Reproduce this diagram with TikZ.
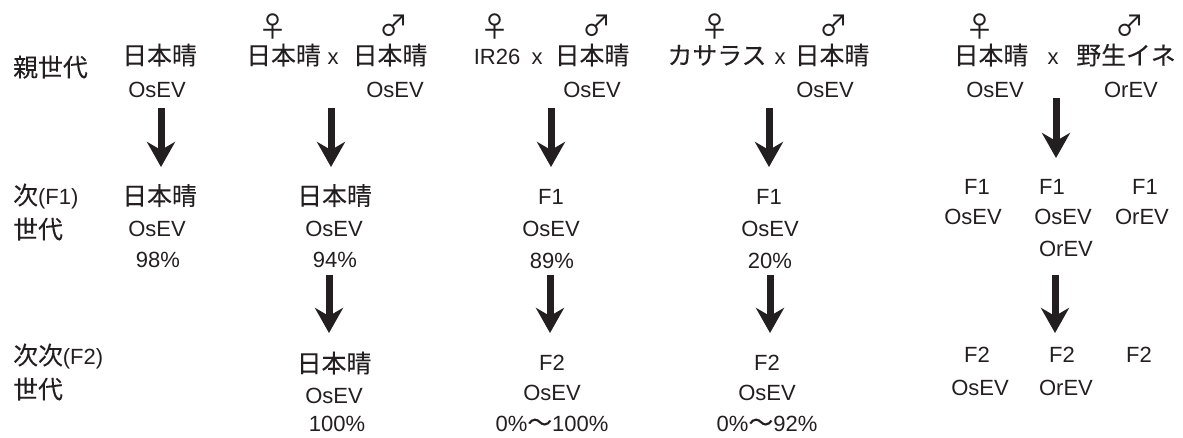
\documentclass[tikz,border=0pt]{standalone}
\usepackage{fontspec}
\setmainfont{Liberation Sans}
\newfontfamily\jp{Noto Sans CJK JP}[Scale=1.13, FakeBold=0.15]
\newfontfamily\sym{Noto Sans CJK JP}
\usetikzlibrary{arrows.meta}
\definecolor{ink}{RGB}{35,31,32}
\begin{document}
\begin{tikzpicture}[x=1pt,y=-1pt,
  lbl/.style={inner sep=0pt, text height=15pt, text depth=0pt, text=ink,
              font=\fontsize{22pt}{26pt}\selectfont},
  rowlbl/.style={lbl, anchor=west},
  sex/.style={inner sep=0pt, text=ink, font=\fontsize{29pt}{32pt}\selectfont\sym},
  down/.style={draw=ink, line width=7pt,
               -{Stealth[length=25pt,width=28pt,inset=8pt]}}]
\useasboundingbox (0,0) rectangle (1183,438);

% generation labels
\node[rowlbl] (g0)  at (13,69)  {\jp 親世代};
\node[rowlbl] (g1a) at (13,197) {{\jp 次}(F1)};
\node[rowlbl] (g1b) at (13,231) {\jp 世代};
\node[rowlbl] (g2a) at (13,357) {{\jp 次次}(F2)};
\node[rowlbl] (g2b) at (13,391) {\jp 世代};

% column 1: self-pollinated Nipponbare
\node[lbl] (c1p)  at (159.5,57) {\jp 日本晴};
\node[lbl] (c1pv) at (157,90)   {OsEV};
\node[lbl] (c1f)  at (159.5,197.5) {\jp 日本晴};
\node[lbl] (c1fv) at (157,229)  {OsEV};
\node[lbl] (c1fr) at (158,260)  {98\%};
\coordinate (c1a) at (161,108);
\coordinate (c1b) at (161,167);
\draw[down] (c1a) -- (c1b);

% column 2: Nipponbare x Nipponbare
\node[sex] (c2fm) at (273,26)   {♀};
\node[sex] (c2ml) at (394,26)   {♂};
\node[lbl] (c2p1) at (283.5,57) {\jp 日本晴};
\node[lbl] (c2x)  at (333,57)   {x};
\node[lbl] (c2p2) at (390,57)   {\jp 日本晴};
\node[lbl] (c2pv) at (395,90)   {OsEV};
\node[lbl] (c2f)  at (334.5,197.5) {\jp 日本晴};
\node[lbl] (c2fv) at (334,229)  {OsEV};
\node[lbl] (c2fr) at (335,260)  {94\%};
\node[lbl] (c2s)  at (334,365)  {\jp 日本晴};
\node[lbl] (c2sv) at (334,396)  {OsEV};
\node[lbl] (c2sr) at (337,424)  {100\%};
\coordinate (c2a) at (331,108);
\coordinate (c2b) at (331,167);
\coordinate (c2c) at (329,275);
\coordinate (c2d) at (329,333);
\draw[down] (c2a) -- (c2b);
\draw[down] (c2c) -- (c2d);

% column 3: IR26 x Nipponbare
\node[sex] (c3fm) at (495,26)   {♀};
\node[sex] (c3ml) at (597,26)   {♂};
\node[lbl] (c3p1) at (497,57)   {IR26};
\node[lbl] (c3x)  at (537,57)   {x};
\node[lbl] (c3p2) at (592,57)   {\jp 日本晴};
\node[lbl] (c3pv) at (592,90)   {OsEV};
\node[lbl] (c3f)  at (551,197.5) {F1};
\node[lbl] (c3fv) at (551,229)  {OsEV};
\node[lbl] (c3fr) at (552,261)  {89\%};
\node[lbl] (c3s)  at (552,363)  {F2};
\node[lbl] (c3sv) at (552,393)  {OsEV};
\node[lbl] (c3sr) at (552,424)  {0\%{\jp ～}100\%};
\coordinate (c3a) at (551,108);
\coordinate (c3b) at (551,167);
\coordinate (c3c) at (550,275);
\coordinate (c3d) at (550,333);
\draw[down] (c3a) -- (c3b);
\draw[down] (c3c) -- (c3d);

% column 4: Kasalath x Nipponbare
\node[sex] (c4fm) at (715,26)   {♀};
\node[sex] (c4ml) at (834,26)   {♂};
\node[lbl] (c4p1) at (717,57)   {\jp カサラス};
\node[lbl] (c4x)  at (780,57)   {x};
\node[lbl] (c4p2) at (832,57)   {\jp 日本晴};
\node[lbl] (c4pv) at (825,90)   {OsEV};
\node[lbl] (c4f)  at (769,197.5) {F1};
\node[lbl] (c4fv) at (770,229)  {OsEV};
\node[lbl] (c4fr) at (770,261)  {20\%};
\node[lbl] (c4s)  at (767,363)  {F2};
\node[lbl] (c4sv) at (767,393)  {OsEV};
\node[lbl] (c4sr) at (767,424)  {0\%{\jp ～}92\%};
\coordinate (c4a) at (769,108);
\coordinate (c4b) at (769,167);
\coordinate (c4c) at (770,275);
\coordinate (c4d) at (770,333);
\draw[down] (c4a) -- (c4b);
\draw[down] (c4c) -- (c4d);

% column 5: Nipponbare x wild rice
\node[sex] (c5fm) at (980,26)   {♀};
\node[sex] (c5ml) at (1130,26)  {♂};
\node[lbl] (c5p1) at (991,57)   {\jp 日本晴};
\node[lbl] (c5x)  at (1053,57)  {x};
\node[lbl] (c5p2) at (1126,57)  {\jp 野生イネ};
\node[lbl] (c5pv) at (995,90)   {OsEV};
\node[lbl] (c5pw) at (1131,90)  {OrEV};
\node[lbl] (c5f1) at (977,187)  {F1};
\node[lbl] (c5f2) at (1052,187) {F1};
\node[lbl] (c5f3) at (1145,187) {F1};
\node[lbl] (c5v1) at (973,217)  {OsEV};
\node[lbl] (c5v2) at (1063,217) {OsEV};
\node[lbl] (c5v3) at (1142,217) {OrEV};
\node[lbl] (c5w2) at (1066,249) {OrEV};
\node[lbl] (c5s1) at (977,355)  {F2};
\node[lbl] (c5s2) at (1062,355) {F2};
\node[lbl] (c5s3) at (1139,355) {F2};
\node[lbl] (c5t1) at (980,388)  {OsEV};
\node[lbl] (c5t2) at (1066,388) {OrEV};
\coordinate (c5a) at (1056,98);
\coordinate (c5b) at (1056,158);
\coordinate (c5c) at (1055,275);
\coordinate (c5d) at (1055,333);
\draw[down] (c5a) -- (c5b);
\draw[down] (c5c) -- (c5d);
\end{tikzpicture}
\end{document}
